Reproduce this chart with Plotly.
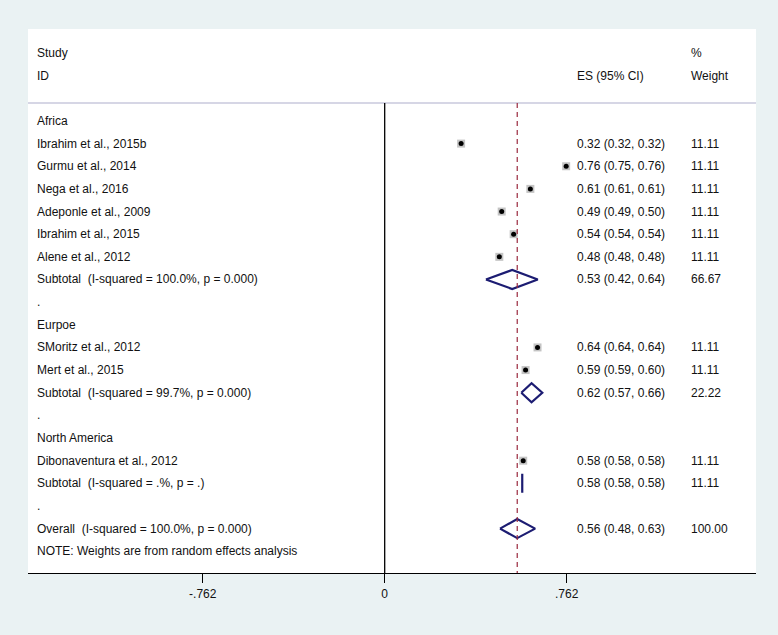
import plotly.graph_objects as go

# ---- data ----
labels = ["Africa", "Ibrahim et al., 2015b", "Gurmu et al., 2014", "Nega et al., 2016",
          "Adeponle et al., 2009", "Ibrahim et al., 2015", "Alene et al., 2012",
          "Subtotal \u00a0(I-squared = 100.0%, p = 0.000)", ".",
          "Eurpoe", "SMoritz et al., 2012", "Mert et al., 2015",
          "Subtotal \u00a0(I-squared = 99.7%, p = 0.000)", ".",
          "North America", "Dibonaventura et al., 2012",
          "Subtotal \u00a0(I-squared = .%, p = .)", ".",
          "Overall \u00a0(I-squared = 100.0%, p = 0.000)",
          "NOTE: Weights are from random effects analysis"]
row_type = ["head", "study", "study", "study", "study", "study", "study", "sub", "blank",
            "head", "study", "study", "sub", "blank",
            "head", "study", "sub", "blank", "sub", "note"]
es = [None, 0.32, 0.76, 0.61, 0.49, 0.54, 0.48, 0.534, None,
      None, 0.64, 0.59, 0.615, None,
      None, 0.58, 0.576, None, 0.555, None]
lo = [None, 0.32, 0.75, 0.61, 0.49, 0.54, 0.48, 0.424, None,
      None, 0.64, 0.59, 0.572, None,
      None, 0.58, 0.576, None, 0.483, None]
hi = [None, 0.32, 0.76, 0.61, 0.50, 0.54, 0.48, 0.641, None,
      None, 0.64, 0.60, 0.660, None,
      None, 0.58, 0.576, None, 0.630, None]
es_text = [None, "0.32 (0.32, 0.32)", "0.76 (0.75, 0.76)", "0.61 (0.61, 0.61)",
           "0.49 (0.49, 0.50)", "0.54 (0.54, 0.54)", "0.48 (0.48, 0.48)",
           "0.53 (0.42, 0.64)", None, None, "0.64 (0.64, 0.64)", "0.59 (0.59, 0.60)",
           "0.62 (0.57, 0.66)", None, None, "0.58 (0.58, 0.58)", "0.58 (0.58, 0.58)",
           None, "0.56 (0.48, 0.63)", None]
weights = [None, "11.11", "11.11", "11.11", "11.11", "11.11", "11.11", "66.67", None,
           None, "11.11", "11.11", "22.22", None, None, "11.11", "11.11", None,
           "100.00", None]
tick_vals = [-0.762, 0, 0.762]
tick_text = ["-.762", "0", ".762"]
overall_es = 0.555

# ---- layout constants ----
W, H = 778, 635
L, R, T, B = 28, 22, 29, 62
first_row = 3
rows = list(range(first_row, first_row + len(labels)))
y_top, y_bot = -1.06, 22.96
header_y = 2.21
x_range = [-1.4937, 1.5549]
font = "Liberation Sans, Arial, sans-serif"
FS = 12
navy = "#1c1c72"
BG = "#eaf2f3"

fig = go.Figure()

# study markers: gray squares with black dot
sx = [e for e, t in zip(es, row_type) if t == "study"]
sy = [r for r, t in zip(rows, row_type) if t == "study"]
fig.add_trace(go.Scatter(x=sx, y=sy, mode="markers",
                         marker=dict(symbol="square", size=8, color="#c4c4c4", line=dict(width=0)),
                         hoverinfo="skip", showlegend=False))
fig.add_trace(go.Scatter(x=sx, y=sy, mode="markers",
                         marker=dict(symbol="circle", size=5, color="black", line=dict(width=0)),
                         hoverinfo="skip", showlegend=False))

# diamonds for subtotals / overall
half = 0.42
for r, t, e, a, b in zip(rows, row_type, es, lo, hi):
    if t != "sub":
        continue
    fig.add_trace(go.Scatter(x=[a, e, b, e, a], y=[r, r - half, r, r + half, r],
                             mode="lines", line=dict(color=navy, width=2.2),
                             hoverinfo="skip", showlegend=False))

# reference lines
fig.add_shape(type="line", xref="paper", yref="y", x0=0, x1=1, y0=header_y, y1=header_y,
              line=dict(color="#c9c9dc", width=1.5))
fig.add_shape(type="line", xref="x", yref="y", x0=0, x1=0, y0=header_y, y1=y_bot,
              line=dict(color="black", width=1.3))
fig.add_shape(type="line", xref="x", yref="y", x0=overall_es, x1=overall_es, y0=header_y, y1=y_bot,
              line=dict(color="#9a2a3e", width=1.2, dash="5px,4px"))

# text
def ann(x, y, text):
    fig.add_annotation(x=x, y=y, xref="paper", yref="y", text=text, showarrow=False,
                       xanchor="left", yanchor="middle",
                       font=dict(family=font, size=FS, color="#111"))

xl = (35 - L) / (W - L - R)
xe = (575 - L) / (W - L - R)
xw = (689 - L) / (W - L - R)
ann(xl, 0, "Study")
ann(xl, 1, "ID")
ann(xe, 1, "ES (95% CI)")
ann(xw, 0, "%")
ann(xw, 1, "Weight")
for r, lab, et, w in zip(rows, labels, es_text, weights):
    ann(xl, r, lab)
    if et:
        ann(xe, r, et)
    if w:
        ann(xw, r, w)

fig.update_layout(
    width=W, height=H, margin=dict(l=L, r=R, t=T, b=B),
    paper_bgcolor=BG, plot_bgcolor="white",
    xaxis=dict(range=x_range, tickvals=tick_vals, ticktext=tick_text, ticks="outside",
               ticklen=9, tickwidth=1.3, tickcolor="black", showline=True, linecolor="black",
               linewidth=1.3, showgrid=False, zeroline=False, fixedrange=True,
               tickfont=dict(family=font, size=FS, color="#111")),
    yaxis=dict(range=[y_bot, y_top], visible=False, showgrid=False, zeroline=False),
    showlegend=False,
)

fig.write_html("out.html", config={"displayModeBar": False},
               post_script="document.body.style.margin='0';document.body.style.background='%s';" % BG)
